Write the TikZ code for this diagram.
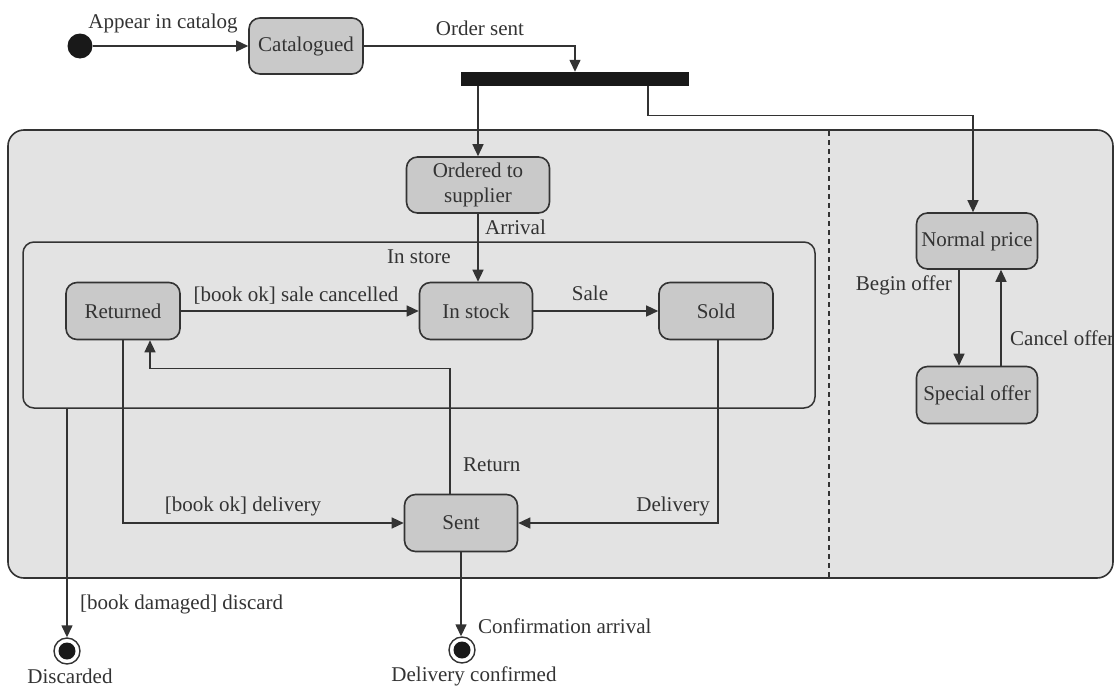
\documentclass[tikz,border=0pt]{standalone}
\usepackage{fontspec}
\setmainfont{Liberation Serif}
\usetikzlibrary{arrows.meta,calc}
\definecolor{ink}{HTML}{333333}
\definecolor{panel}{HTML}{E3E3E3}
\definecolor{statefill}{HTML}{C9C9C9}
\begin{document}
\begin{tikzpicture}[x=1pt,y=-1pt,
  font=\fontsize{21}{25}\selectfont, text=ink,
  state/.style={draw=ink, line width=1.6pt, fill=statefill, rounded corners=11pt,
    inner sep=0pt, align=center, minimum height=57pt},
  flow/.style={draw=ink, line width=1.4pt, -{Triangle[length=12pt,width=11pt]}},
  lbl/.style={inner sep=0pt},
  finalring/.style={circle, draw=ink, fill=white, line width=1.4pt, minimum size=26pt, inner sep=0pt}
]
\useasboundingbox (0,0) rectangle (1115,688);

% composite state and its two regions
\node[draw=ink, line width=1.6pt, fill=panel, rounded corners=16pt, minimum width=1105pt,
      minimum height=448pt, inner sep=0pt] (books) at (560.5,354) {};
\coordinate (divtop) at (829,131);
\coordinate (divbot) at (829,577);
\draw[ink, line width=1.4pt, dash pattern=on 5pt off 4pt] (divtop) -- (divbot);

\node[draw=ink, line width=1.5pt, rounded corners=11pt, minimum width=792pt,
      minimum height=166pt, inner sep=0pt] (store) at (419,325) {};
\node[lbl] (lstore) at (419,257) {In store};

% initial state, fork bar, first state
\node[circle, fill=black!90, minimum size=25pt, inner sep=0pt] (init) at (80,46) {};
\node[state, minimum width=114pt, minimum height=56pt] (cat) at (306,46) {Catalogued};
\node[fill=black!90, minimum width=228pt, minimum height=14pt, inner sep=0pt] (bar) at (575,79) {};

% states
\node[state, minimum width=143pt, minimum height=56pt] (ord) at (478,185) {Ordered to\\supplier};
\node[state, minimum width=114pt] (ret) at (123,311) {Returned};
\node[state, minimum width=113pt] (stock) at (476,311) {In stock};
\node[state, minimum width=114pt] (sold) at (716,311) {Sold};
\node[state, minimum width=113pt] (sent) at (461,523) {Sent};
\node[state, minimum width=121pt, minimum height=56pt] (np) at (977,241) {Normal price};
\node[state, minimum width=121pt] (sp) at (977,395) {Special offer};

% final states
\node[finalring] (dis) at (67,651) {};
\fill[black!90] (dis.center) circle[radius=8.5pt];
\node[lbl] (ldis) at (70,676) {Discarded};
\node[finalring] (conf) at (462,650) {};
\fill[black!90] (conf.center) circle[radius=8.5pt];
\node[lbl] (lconf) at (474,676) {Delivery confirmed};

% transitions
\draw[flow] (init) -- (cat.west);
\node[lbl] (lappear) at (163,23) {Appear in catalog};

\draw[flow] (cat.east) -| (bar.north);
\node[lbl] (lorder) at (480,28) {Order sent};

\draw[flow] (bar.south -| ord.north) -- (ord.north);
\draw[flow] ($(bar.south)+(73,0)$) -- ++(0,29) -| ($(np.north)+(-4,0)$);

\draw[flow] (ord.south) -- (ord.south |- stock.north);
\node[lbl, anchor=west] (larrival) at (485,227) {Arrival};

\draw[flow] (ret.east) -- (stock.west);
\node[lbl] (lcancel) at (296,296) {[book ok] sale cancelled};

\draw[flow] (stock.east) -- (sold.west);
\node[lbl] (lsale) at (590,293) {Sale};

\draw[flow] ($(sent.north)+(-11,0)$) |- ($(ret.south)+(27,28)$) -- ($(ret.south)+(27,0)$);
\node[lbl, anchor=west] (lreturn) at (463,465) {Return};

\draw[flow] (ret.south) |- (sent.west);
\node[lbl] (ldeliv) at (243,506) {[book ok] delivery};

\draw[flow] ($(sold.south)+(2,0)$) |- (sent.east);
\node[lbl, anchor=east] (ldelivery) at (710,506) {Delivery};

\draw[flow] (store.south -| dis.north) -- (dis.north);
\node[lbl, anchor=west] (ldamaged) at (80,604) {[book damaged] discard};

\draw[flow] (sent.south) -- (sent.south |- conf.north);
\node[lbl, anchor=west] (lconfirm) at (478,626) {Confirmation arrival};

\draw[flow] ($(np.south)+(-18,0)$) -- ($(sp.north)+(-18,0)$);
\node[lbl, anchor=east] (lbegin) at (952,285) {Begin offer};
\draw[flow] ($(sp.north)+(24,0)$) -- ($(np.south)+(24,0)$);
\node[lbl, anchor=west] (lcanceloffer) at (1010,338) {Cancel offer};
\end{tikzpicture}
\end{document}
